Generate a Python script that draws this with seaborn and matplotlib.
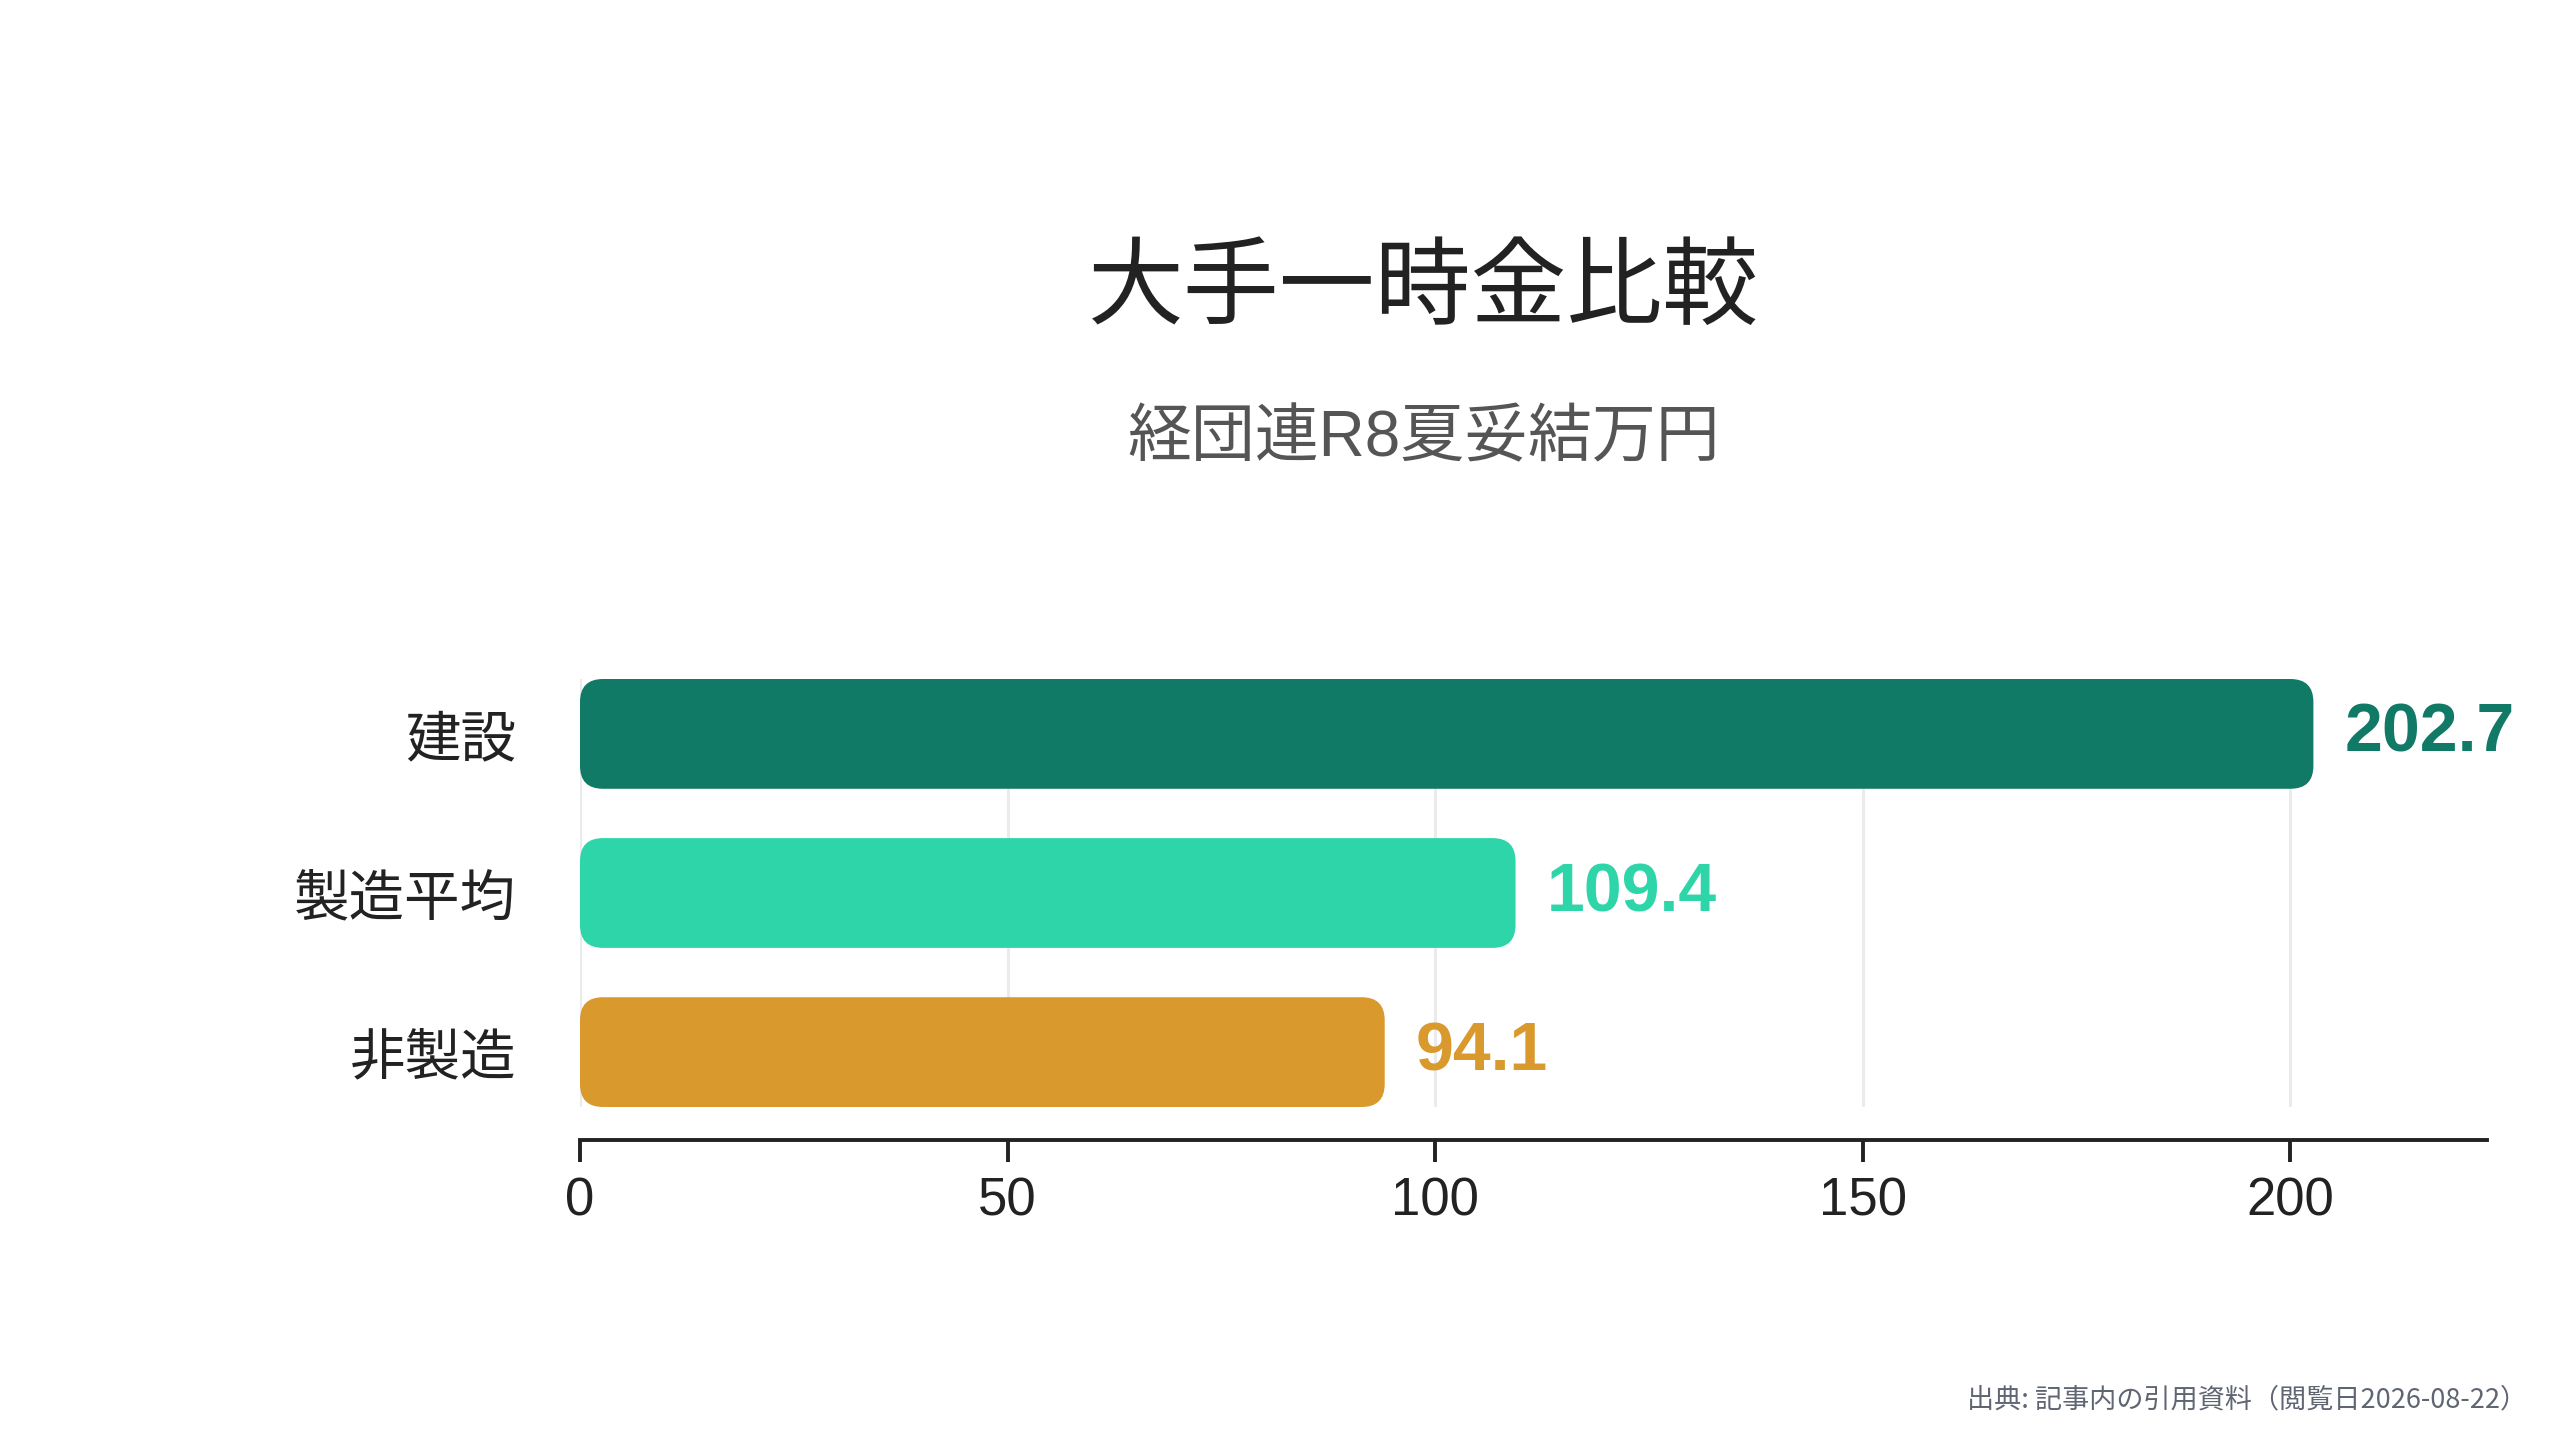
import numpy as np
import pandas as pd
import seaborn as sns
import matplotlib.pyplot as plt
from matplotlib.patches import FancyBboxPatch

categories = ["建設", "製造平均", "非製造"]
values = [202.7, 109.4, 94.1]
colors = ["#107a66", "#2ed5a8", "#d9992c"]
x_ticks = [0, 50, 100, 150, 200]

title = "大手一時金比較"
subtitle = "経団連R8夏妥結万円"
source = "出典: 記事内の引用資料（閲覧日2026-08-22）"

sns.set_style("white")
plt.rcParams["font.family"] = ["Noto Sans CJK JP", "DejaVu Sans"]
latin = ["Liberation Sans", "Noto Sans CJK JP", "DejaVu Sans"]

df = pd.DataFrame({"category": categories, "value": values})

fig = plt.figure(figsize=(25.6, 14.4), dpi=100)
ax = fig.add_axes([580 / 2560, 1 - 1107 / 1440, (2487 - 580) / 2560, (1107 - 679) / 1440])

bar_w = 0.69
sns.barplot(
    data=df, x="value", y="category", hue="category",
    palette=colors, orient="h", width=bar_w, legend=False,
    saturation=1, ax=ax, zorder=3
)

ax.set_xlim(0, 223)
ax.set_ylim(len(categories) - 1 + bar_w / 2, -bar_w / 2)

# swap the plain rectangles for rounded ones
fig.canvas.draw()
p0 = ax.transData.transform((0, 0))
p1 = ax.transData.transform((1, 1))
aspect = abs(p1[0] - p0[0]) / abs(p1[1] - p0[1])
radius_px = 23
r = radius_px / abs(p1[0] - p0[0])
old = list(ax.patches)
for p in old:
    x, y = p.get_x(), p.get_y()
    w, h = p.get_width(), p.get_height()
    fc = p.get_facecolor()
    p.remove()
    ax.add_patch(FancyBboxPatch(
        (x, y), w, h,
        boxstyle=f"round,pad=0,rounding_size={r}",
        mutation_aspect=aspect, facecolor=fc, edgecolor="none", zorder=3
    ))

for i, v in enumerate(values):
    ax.text(v + 3.6, i, f"{v:.1f}", va="center", ha="left", family=latin,
            fontsize=49, fontweight="bold", color=colors[i])

ax.set_xticks(x_ticks)
ax.grid(axis="x", color="#ebebeb", linewidth=2.2, zorder=0)
ax.grid(axis="y", visible=False)
for s in ["top", "right", "left"]:
    ax.spines[s].set_visible(False)
ax.spines["bottom"].set_position(("outward", 24))
ax.spines["bottom"].set_color("#222222")
ax.spines["bottom"].set_linewidth(2.8)
ax.tick_params(axis="x", length=16, width=2.8, color="#222222",
               labelsize=38, labelcolor="#222222", pad=10, bottom=True)
for lab in ax.get_xticklabels():
    lab.set_family(latin)
ax.tick_params(axis="y", length=0, labelsize=40, labelcolor="#222222", pad=46)

ax.set_xlabel("")
ax.set_ylabel("")

fig.text(0.556, 0.799, title, ha="center", va="center", fontsize=69, color="#222222")
fig.text(0.556, 0.695, subtitle, ha="center", va="center", fontsize=46,
         color="#555555", family=latin)
fig.text(0.987, 0.028, source, ha="right", va="center", fontsize=19.5, color="#5f6672")

fig.savefig("out.png", dpi=100, facecolor="white")
